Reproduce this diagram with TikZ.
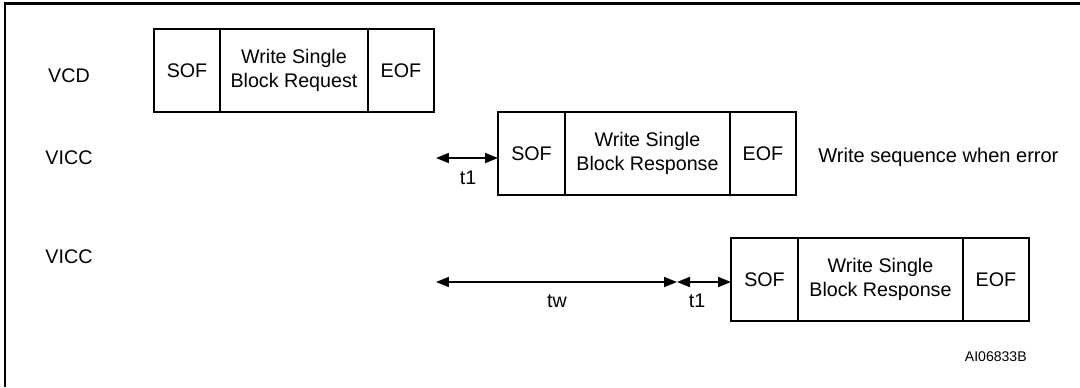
\documentclass[tikz,border=0pt]{standalone}
\usepackage{fontspec}
\setmainfont{Liberation Sans}
\usetikzlibrary{arrows.meta,positioning}
\tikzset{
  >={Triangle[length=2.6mm,width=2mm]},
  seg/.style={
    draw, rectangle, align=center, inner sep=0pt, outer sep=0pt,
    line width=1.2pt, minimum height=16.6mm
  },
  lbl/.style={inner sep=0pt, font=\fontsize{11.2}{13.4}\selectfont},
  tim/.style={line width=1.1pt, <->},
}

\begin{document}
\begin{tikzpicture}[x=0.02cm, y=-0.02cm, every node/.append style={font=\fontsize{11.2}{13.4}\selectfont}]
  \useasboundingbox (0,0) rectangle (1080,387);
  % frame
  \draw[line width=1.7pt] (5,387) -- (5,3) -- (1080,3);
  % rows
  \node[lbl] (vcd) at (69,76) {VCD};
  \node[lbl] (vicca) at (69,158) {VICC};
  \node[lbl] (viccb) at (69,257) {VICC};
  % request
  \node[seg, anchor=north west, minimum width=13.2mm] (sofq) at (154,29) {SOF};
  \node[seg, right=0pt of sofq, minimum width=29.6mm] (wrq) {Write Single\\Block Request};
  \node[seg, right=0pt of wrq, minimum width=13.2mm] (eofq) {EOF};
  % response, error
  \node[seg, anchor=north west, minimum width=13.4mm] (sofa) at (498,112) {SOF};
  \node[seg, right=0pt of sofa, minimum width=33mm] (wra) {Write Single\\Block Response};
  \node[seg, right=0pt of wra, minimum width=13.2mm] (eofa) {EOF};
  \node[lbl, anchor=west, font=\fontsize{11.4}{13.4}\selectfont] (err) at (818,157) {Write sequence when error};
  % response, later
  \node[seg, anchor=north west, minimum width=13.4mm] (sofb) at (731,238) {SOF};
  \node[seg, right=0pt of sofb, minimum width=33mm] (wrb) {Write Single\\Block Response};
  \node[seg, right=0pt of wrb, minimum width=13.2mm] (eofb) {EOF};
  % timings
  \coordinate (ta) at (436,158);
  \coordinate (tb) at (436,282);
  \coordinate (tc) at (677,282);
  \draw[tim] (ta) -- (ta -| sofa.west);
  \draw[tim] (tb) -- (tc);
  \draw[tim] (tc) -- (tc -| sofb.west);
  \node[lbl] (ta1) at (468,178) {t1};
  \node[lbl] (tw) at (557,301) {tw};
  \node[lbl] (ta2) at (697,301) {t1};
  \node[lbl, anchor=east, font=\fontsize{8}{10}\selectfont] (ref) at (1027,357) {AI06833B};
\end{tikzpicture}
\end{document}
